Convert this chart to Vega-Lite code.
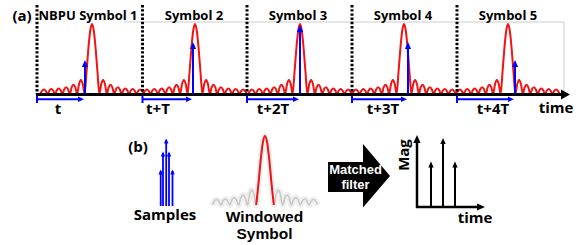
{
"$schema": "https://vega.github.io/schema/vega-lite/v6.json",
"width": 579, "height": 245,
"autosize": {"type": "fit", "contains": "padding"},
"padding": 0,
"background": "white",
"config": {"view": {"stroke": null}},
"datasets": {
"grayBox": [{"x":124,"y":22,"x2":564,"y2":22},{"x":564,"y":22,"x2":564,"y2":93}],
"dotted": [{"x":37,"y":5,"y2":94},{"x":142.5,"y":5,"y2":94},{"x":247,"y":5,"y2":94},{"x":352,"y":5,"y2":94},{"x":457,"y":5,"y2":94}],
"sinc": [
{"s":1,"x":40.2,"y":94},{"s":1,"x":42.05,"y":90.8},{"s":1,"x":43.9,"y":89.5},{"s":1,"x":45.75,"y":90.8},
{"s":1,"x":47.6,"y":94},{"s":1,"x":49.45,"y":90.5},{"s":1,"x":51.3,"y":89},{"s":1,"x":53.15,"y":90.5},
{"s":1,"x":55,"y":94},{"s":1,"x":56.85,"y":90.1},{"s":1,"x":58.7,"y":88.5},{"s":1,"x":60.55,"y":90.1},
{"s":1,"x":62.4,"y":94},{"s":1,"x":64.25,"y":89.3},{"s":1,"x":66.1,"y":87.3},{"s":1,"x":67.95,"y":89.3},
{"s":1,"x":69.8,"y":94},{"s":1,"x":71.65,"y":87.4},{"s":1,"x":73.5,"y":84.7},{"s":1,"x":75.35,"y":87.4},
{"s":1,"x":77.2,"y":94},{"s":1,"x":79.05,"y":84.1},{"s":1,"x":80.9,"y":80},{"s":1,"x":82.75,"y":84.1},
{"s":1,"x":84.6,"y":94},{"s":1,"x":86.45,"y":73},{"s":1,"x":88.3,"y":49.4},{"s":1,"x":90.15,"y":31},
{"s":1,"x":92,"y":24},
{"s":1,"x":93.85,"y":31},{"s":1,"x":95.7,"y":49.4},{"s":1,"x":97.55,"y":73},{"s":1,"x":99.4,"y":94},
{"s":1,"x":101.25,"y":84.1},{"s":1,"x":103.1,"y":80},{"s":1,"x":104.95,"y":84.1},{"s":1,"x":106.8,"y":94},
{"s":1,"x":108.65,"y":87.4},{"s":1,"x":110.5,"y":84.7},{"s":1,"x":112.35,"y":87.4},{"s":1,"x":114.2,"y":94},
{"s":1,"x":116.05,"y":89.3},{"s":1,"x":117.9,"y":87.3},{"s":1,"x":119.75,"y":89.3},{"s":1,"x":121.6,"y":94},
{"s":1,"x":123.45,"y":90.1},{"s":1,"x":125.3,"y":88.5},{"s":1,"x":127.15,"y":90.1},{"s":1,"x":129,"y":94},
{"s":1,"x":130.85,"y":90.5},{"s":1,"x":132.7,"y":89},{"s":1,"x":134.55,"y":90.5},{"s":1,"x":136.4,"y":94},
{"s":1,"x":138.25,"y":90.8},{"s":1,"x":140.1,"y":89.5},{"s":1,"x":141.95,"y":90.8},{"s":1,"x":143.8,"y":94},
{"s":2,"x":143.2,"y":94},{"s":2,"x":145.05,"y":90.8},{"s":2,"x":146.9,"y":89.5},{"s":2,"x":148.75,"y":90.8},
{"s":2,"x":150.6,"y":94},{"s":2,"x":152.45,"y":90.5},{"s":2,"x":154.3,"y":89},{"s":2,"x":156.15,"y":90.5},
{"s":2,"x":158,"y":94},{"s":2,"x":159.85,"y":90.1},{"s":2,"x":161.7,"y":88.5},{"s":2,"x":163.55,"y":90.1},
{"s":2,"x":165.4,"y":94},{"s":2,"x":167.25,"y":89.3},{"s":2,"x":169.1,"y":87.3},{"s":2,"x":170.95,"y":89.3},
{"s":2,"x":172.8,"y":94},{"s":2,"x":174.65,"y":87.4},{"s":2,"x":176.5,"y":84.7},{"s":2,"x":178.35,"y":87.4},
{"s":2,"x":180.2,"y":94},{"s":2,"x":182.05,"y":84.1},{"s":2,"x":183.9,"y":80},{"s":2,"x":185.75,"y":84.1},
{"s":2,"x":187.6,"y":94},{"s":2,"x":189.45,"y":73},{"s":2,"x":191.3,"y":49.4},{"s":2,"x":193.15,"y":31},
{"s":2,"x":195,"y":24},
{"s":2,"x":196.85,"y":31},{"s":2,"x":198.7,"y":49.4},{"s":2,"x":200.55,"y":73},{"s":2,"x":202.4,"y":94},
{"s":2,"x":204.25,"y":84.1},{"s":2,"x":206.1,"y":80},{"s":2,"x":207.95,"y":84.1},{"s":2,"x":209.8,"y":94},
{"s":2,"x":211.65,"y":87.4},{"s":2,"x":213.5,"y":84.7},{"s":2,"x":215.35,"y":87.4},{"s":2,"x":217.2,"y":94},
{"s":2,"x":219.05,"y":89.3},{"s":2,"x":220.9,"y":87.3},{"s":2,"x":222.75,"y":89.3},{"s":2,"x":224.6,"y":94},
{"s":2,"x":226.45,"y":90.1},{"s":2,"x":228.3,"y":88.5},{"s":2,"x":230.15,"y":90.1},{"s":2,"x":232,"y":94},
{"s":2,"x":233.85,"y":90.5},{"s":2,"x":235.7,"y":89},{"s":2,"x":237.55,"y":90.5},{"s":2,"x":239.4,"y":94},
{"s":2,"x":241.25,"y":90.8},{"s":2,"x":243.1,"y":89.5},{"s":2,"x":244.95,"y":90.8},{"s":2,"x":246.8,"y":94},
{"s":3,"x":248.2,"y":94},{"s":3,"x":250.05,"y":90.8},{"s":3,"x":251.9,"y":89.5},{"s":3,"x":253.75,"y":90.8},
{"s":3,"x":255.6,"y":94},{"s":3,"x":257.45,"y":90.5},{"s":3,"x":259.3,"y":89},{"s":3,"x":261.15,"y":90.5},
{"s":3,"x":263,"y":94},{"s":3,"x":264.85,"y":90.1},{"s":3,"x":266.7,"y":88.5},{"s":3,"x":268.55,"y":90.1},
{"s":3,"x":270.4,"y":94},{"s":3,"x":272.25,"y":89.3},{"s":3,"x":274.1,"y":87.3},{"s":3,"x":275.95,"y":89.3},
{"s":3,"x":277.8,"y":94},{"s":3,"x":279.65,"y":87.4},{"s":3,"x":281.5,"y":84.7},{"s":3,"x":283.35,"y":87.4},
{"s":3,"x":285.2,"y":94},{"s":3,"x":287.05,"y":84.1},{"s":3,"x":288.9,"y":80},{"s":3,"x":290.75,"y":84.1},
{"s":3,"x":292.6,"y":94},{"s":3,"x":294.45,"y":73},{"s":3,"x":296.3,"y":49.4},{"s":3,"x":298.15,"y":31},
{"s":3,"x":300,"y":24},
{"s":3,"x":301.85,"y":31},{"s":3,"x":303.7,"y":49.4},{"s":3,"x":305.55,"y":73},{"s":3,"x":307.4,"y":94},
{"s":3,"x":309.25,"y":84.1},{"s":3,"x":311.1,"y":80},{"s":3,"x":312.95,"y":84.1},{"s":3,"x":314.8,"y":94},
{"s":3,"x":316.65,"y":87.4},{"s":3,"x":318.5,"y":84.7},{"s":3,"x":320.35,"y":87.4},{"s":3,"x":322.2,"y":94},
{"s":3,"x":324.05,"y":89.3},{"s":3,"x":325.9,"y":87.3},{"s":3,"x":327.75,"y":89.3},{"s":3,"x":329.6,"y":94},
{"s":3,"x":331.45,"y":90.1},{"s":3,"x":333.3,"y":88.5},{"s":3,"x":335.15,"y":90.1},{"s":3,"x":337,"y":94},
{"s":3,"x":338.85,"y":90.5},{"s":3,"x":340.7,"y":89},{"s":3,"x":342.55,"y":90.5},{"s":3,"x":344.4,"y":94},
{"s":3,"x":346.25,"y":90.8},{"s":3,"x":348.1,"y":89.5},{"s":3,"x":349.95,"y":90.8},{"s":3,"x":351.8,"y":94},
{"s":4,"x":352.2,"y":94},{"s":4,"x":354.05,"y":90.8},{"s":4,"x":355.9,"y":89.5},{"s":4,"x":357.75,"y":90.8},
{"s":4,"x":359.6,"y":94},{"s":4,"x":361.45,"y":90.5},{"s":4,"x":363.3,"y":89},{"s":4,"x":365.15,"y":90.5},
{"s":4,"x":367,"y":94},{"s":4,"x":368.85,"y":90.1},{"s":4,"x":370.7,"y":88.5},{"s":4,"x":372.55,"y":90.1},
{"s":4,"x":374.4,"y":94},{"s":4,"x":376.25,"y":89.3},{"s":4,"x":378.1,"y":87.3},{"s":4,"x":379.95,"y":89.3},
{"s":4,"x":381.8,"y":94},{"s":4,"x":383.65,"y":87.4},{"s":4,"x":385.5,"y":84.7},{"s":4,"x":387.35,"y":87.4},
{"s":4,"x":389.2,"y":94},{"s":4,"x":391.05,"y":84.1},{"s":4,"x":392.9,"y":80},{"s":4,"x":394.75,"y":84.1},
{"s":4,"x":396.6,"y":94},{"s":4,"x":398.45,"y":73},{"s":4,"x":400.3,"y":49.4},{"s":4,"x":402.15,"y":31},
{"s":4,"x":404,"y":24},
{"s":4,"x":405.85,"y":31},{"s":4,"x":407.7,"y":49.4},{"s":4,"x":409.55,"y":73},{"s":4,"x":411.4,"y":94},
{"s":4,"x":413.25,"y":84.1},{"s":4,"x":415.1,"y":80},{"s":4,"x":416.95,"y":84.1},{"s":4,"x":418.8,"y":94},
{"s":4,"x":420.65,"y":87.4},{"s":4,"x":422.5,"y":84.7},{"s":4,"x":424.35,"y":87.4},{"s":4,"x":426.2,"y":94},
{"s":4,"x":428.05,"y":89.3},{"s":4,"x":429.9,"y":87.3},{"s":4,"x":431.75,"y":89.3},{"s":4,"x":433.6,"y":94},
{"s":4,"x":435.45,"y":90.1},{"s":4,"x":437.3,"y":88.5},{"s":4,"x":439.15,"y":90.1},{"s":4,"x":441,"y":94},
{"s":4,"x":442.85,"y":90.5},{"s":4,"x":444.7,"y":89},{"s":4,"x":446.55,"y":90.5},{"s":4,"x":448.4,"y":94},
{"s":4,"x":450.25,"y":90.8},{"s":4,"x":452.1,"y":89.5},{"s":4,"x":453.95,"y":90.8},{"s":4,"x":455.8,"y":94},
{"s":5,"x":456.2,"y":94},{"s":5,"x":458.05,"y":90.8},{"s":5,"x":459.9,"y":89.5},{"s":5,"x":461.75,"y":90.8},
{"s":5,"x":463.6,"y":94},{"s":5,"x":465.45,"y":90.5},{"s":5,"x":467.3,"y":89},{"s":5,"x":469.15,"y":90.5},
{"s":5,"x":471,"y":94},{"s":5,"x":472.85,"y":90.1},{"s":5,"x":474.7,"y":88.5},{"s":5,"x":476.55,"y":90.1},
{"s":5,"x":478.4,"y":94},{"s":5,"x":480.25,"y":89.3},{"s":5,"x":482.1,"y":87.3},{"s":5,"x":483.95,"y":89.3},
{"s":5,"x":485.8,"y":94},{"s":5,"x":487.65,"y":87.4},{"s":5,"x":489.5,"y":84.7},{"s":5,"x":491.35,"y":87.4},
{"s":5,"x":493.2,"y":94},{"s":5,"x":495.05,"y":84.1},{"s":5,"x":496.9,"y":80},{"s":5,"x":498.75,"y":84.1},
{"s":5,"x":500.6,"y":94},{"s":5,"x":502.45,"y":73},{"s":5,"x":504.3,"y":49.4},{"s":5,"x":506.15,"y":31},
{"s":5,"x":508,"y":24},
{"s":5,"x":509.85,"y":31},{"s":5,"x":511.7,"y":49.4},{"s":5,"x":513.55,"y":73},{"s":5,"x":515.4,"y":94},
{"s":5,"x":517.25,"y":84.1},{"s":5,"x":519.1,"y":80},{"s":5,"x":520.95,"y":84.1},{"s":5,"x":522.8,"y":94},
{"s":5,"x":524.65,"y":87.4},{"s":5,"x":526.5,"y":84.7},{"s":5,"x":528.35,"y":87.4},{"s":5,"x":530.2,"y":94},
{"s":5,"x":532.05,"y":89.3},{"s":5,"x":533.9,"y":87.3},{"s":5,"x":535.75,"y":89.3},{"s":5,"x":537.6,"y":94},
{"s":5,"x":539.45,"y":90.1},{"s":5,"x":541.3,"y":88.5},{"s":5,"x":543.15,"y":90.1},{"s":5,"x":545,"y":94},
{"s":5,"x":546.85,"y":90.5},{"s":5,"x":548.7,"y":89},{"s":5,"x":550.55,"y":90.5},{"s":5,"x":552.4,"y":94},
{"s":5,"x":554.25,"y":90.8},{"s":5,"x":556.1,"y":89.5},{"s":5,"x":557.95,"y":90.8},{"s":5,"x":559.8,"y":94}
],
"windowed": [
{"x":212.2,"y":205},{"x":214.4,"y":201.1},{"x":216.6,"y":199.5},{"x":218.8,"y":201.1},
{"x":221,"y":205},{"x":223.2,"y":200.8},{"x":225.4,"y":199},{"x":227.6,"y":200.8},
{"x":229.8,"y":205},{"x":232,"y":199.7},{"x":234.2,"y":197.5},{"x":236.4,"y":199.7},
{"x":238.6,"y":205},{"x":240.8,"y":197.9},{"x":243,"y":195},{"x":245.2,"y":197.9},
{"x":247.4,"y":205},{"x":249.6,"y":194.4},{"x":251.8,"y":190},{"x":254,"y":194.4},
{"x":256.2,"y":205},{"x":258.4,"y":184.3},{"x":260.6,"y":161},{"x":262.8,"y":142.9},
{"x":265,"y":136},
{"x":267.2,"y":142.9},{"x":269.4,"y":161},{"x":271.6,"y":184.3},{"x":273.8,"y":205},
{"x":276,"y":194.4},{"x":278.2,"y":190},{"x":280.4,"y":194.4},{"x":282.6,"y":205},
{"x":284.8,"y":197.9},{"x":287,"y":195},{"x":289.2,"y":197.9},{"x":291.4,"y":205},
{"x":293.6,"y":199.7},{"x":295.8,"y":197.5},{"x":298,"y":199.7},{"x":300.2,"y":205},
{"x":302.4,"y":200.8},{"x":304.6,"y":199},{"x":306.8,"y":200.8},{"x":309,"y":205},
{"x":311.2,"y":201.1},{"x":313.4,"y":199.5},{"x":315.6,"y":201.1},{"x":317.8,"y":205}
],
"blackThick": [{"x":36,"y":94.5,"x2":564,"y2":94.5}],
"blackAxes": [{"x":417,"y":140,"x2":417,"y2":208},{"x":416,"y":207,"x2":480,"y2":207}],
"stems": [{"x":431,"y":164,"y2":207},{"x":443,"y":141,"y2":207},{"x":455,"y":164,"y2":207}],
"blueA": [
{"x":85,"y":62,"x2":85,"y2":94},{"x":193,"y":44,"x2":193,"y2":94},{"x":300,"y":27,"x2":300,"y2":94},{"x":408,"y":44,"x2":408,"y2":94},{"x":515,"y":62,"x2":515,"y2":94},
{"x":37,"y":99.3,"x2":81,"y2":99.3},{"x":142.5,"y":99.3,"x2":189,"y2":99.3},{"x":247,"y":99.3,"x2":296,"y2":99.3},{"x":352,"y":99.3,"x2":404,"y2":99.3},{"x":457,"y":99.3,"x2":511,"y2":99.3},
{"x":37,"y":95.5,"x2":37,"y2":103},{"x":142.5,"y":95.5,"x2":142.5,"y2":103},{"x":247,"y":95.5,"x2":247,"y2":103},{"x":352,"y":95.5,"x2":352,"y2":103},{"x":457,"y":95.5,"x2":457,"y2":103}
],
"blueB": [{"x":160.7,"y":171,"y2":206},{"x":163,"y":153,"y2":206},{"x":166.2,"y":140,"y2":206},{"x":169,"y":153,"y2":206},{"x":172.5,"y":171,"y2":206}],
"headsBlueA": [{"x":85,"y":60},{"x":193,"y":42},{"x":300,"y":25},{"x":408,"y":42},{"x":515,"y":60}],
"headsBlueRight": [{"x":84,"y":99.3},{"x":192,"y":99.3},{"x":299,"y":99.3},{"x":407,"y":99.3},{"x":514,"y":99.3}],
"headsBlueB": [{"x":160.7,"y":169.5},{"x":163,"y":151.5},{"x":166.2,"y":138.5},{"x":169,"y":151.5},{"x":172.5,"y":169.5}],
"headsBlackRight": [{"x":570,"y":94.5}],
"headsAxes": [{"x":417,"y":135}],
"headsAxesRight": [{"x":485,"y":207}],
"headsStems": [{"x":431,"y":161.5},{"x":443,"y":138},{"x":455,"y":161.5}],
"blockBody": [{"x":328,"y":162,"x2":363.5,"y2":192}],
"blockHead": [{"x":363,"y":144,"y2":207.5},{"x":390,"y":176,"y2":176}],
"titles": [{"t":"NBPU Symbol 1","x":88,"y":19.5},{"t":"Symbol 2","x":194,"y":19.5},{"t":"Symbol 3","x":298,"y":19.5},{"t":"Symbol 4","x":403,"y":19.5},{"t":"Symbol 5","x":508,"y":19.5}],
"labels": [{"t":"(a)","x":22,"y":20.5},{"t":"t","x":58,"y":114},{"t":"t+T","x":158,"y":114},{"t":"t+2T","x":273,"y":114},{"t":"t+3T","x":383,"y":114},{"t":"t+4T","x":493,"y":114},{"t":"time","x":556,"y":113},{"t":"(b)","x":138,"y":152},{"t":"Samples","x":165,"y":220},{"t":"time","x":475,"y":223}],
"twoLine": [{"t":"Windowed\nSymbol","x":264.5,"y":221.5}],
"white": [{"t":"Matched\nfilter","x":355.5,"y":174}],
"mag": [{"t":"Mag","x":404,"y":155}]
},
"encoding": {
"x": {"field":"x","type":"quantitative","scale":{"domain":[0,579],"nice":false,"zero":false},"axis":null},
"y": {"field":"y","type":"quantitative","scale":{"domain":[0,245],"nice":false,"zero":false,"reverse":true},"axis":null}
},
"layer": [
{"data":{"name":"grayBox"},"mark":{"type":"rule","color":"#cccccc","strokeWidth":1},"encoding":{"x2":{"field":"x2"},"y2":{"field":"y2"}}},
{"data":{"name":"windowed"},"mark":{"type":"line","color":"#eeeeee","strokeWidth":6,"interpolate":"monotone"}},
{"data":{"name":"windowed"},"mark":{"type":"line","color":"#c8c8c8","strokeWidth":1.5,"interpolate":"monotone"}},
{"data":{"name":"sinc"},"mark":{"type":"line","color":"#f01414","strokeWidth":2,"interpolate":"monotone"},"encoding":{"detail":{"field":"s","type":"nominal"}}},
{"data":{"name":"windowed"},"transform":[{"filter":{"field":"x","range":[256,274]}}],"mark":{"type":"line","color":"#f01414","strokeWidth":2,"interpolate":"monotone"}},
{"data":{"name":"dotted"},"mark":{"type":"rule","color":"black","strokeWidth":3,"strokeDash":[2.4,1.8]},"encoding":{"y2":{"field":"y2"}}},
{"data":{"name":"blackThick"},"mark":{"type":"rule","color":"black","strokeWidth":3},"encoding":{"x2":{"field":"x2"},"y2":{"field":"y2"}}},
{"data":{"name":"blackAxes"},"mark":{"type":"rule","color":"black","strokeWidth":2.5},"encoding":{"x2":{"field":"x2"},"y2":{"field":"y2"}}},
{"data":{"name":"stems"},"mark":{"type":"rule","color":"black","strokeWidth":2},"encoding":{"y2":{"field":"y2"}}},
{"data":{"name":"blueA"},"mark":{"type":"rule","color":"#0000ff","strokeWidth":2},"encoding":{"x2":{"field":"x2"},"y2":{"field":"y2"}}},
{"data":{"name":"blueB"},"mark":{"type":"rule","color":"#0000ff","strokeWidth":1.8},"encoding":{"y2":{"field":"y2"}}},
{"data":{"name":"headsBlueA"},"mark":{"type":"point","shape":"M0,0L0.9,2L-0.9,2Z","size":49,"filled":true,"color":"#0000ff","opacity":1,"strokeWidth":0}},
{"data":{"name":"headsBlueRight"},"mark":{"type":"point","shape":"M0,0L-2,-0.9L-2,0.9Z","size":36,"filled":true,"color":"#0000ff","opacity":1,"strokeWidth":0}},
{"data":{"name":"headsBlueB"},"mark":{"type":"point","shape":"M0,0L0.9,2L-0.9,2Z","size":25,"filled":true,"color":"#0000ff","opacity":1,"strokeWidth":0}},
{"data":{"name":"headsBlackRight"},"mark":{"type":"point","shape":"M0,0L-2,-1.1L-2,1.1Z","size":81,"filled":true,"color":"black","opacity":1,"strokeWidth":0}},
{"data":{"name":"headsAxes"},"mark":{"type":"point","shape":"M0,0L0.9,2L-0.9,2Z","size":64,"filled":true,"color":"black","opacity":1,"strokeWidth":0}},
{"data":{"name":"headsAxesRight"},"mark":{"type":"point","shape":"M0,0L-2,-0.9L-2,0.9Z","size":64,"filled":true,"color":"black","opacity":1,"strokeWidth":0}},
{"data":{"name":"headsStems"},"mark":{"type":"point","shape":"M0,0L0.9,2L-0.9,2Z","size":36,"filled":true,"color":"black","opacity":1,"strokeWidth":0}},
{"data":{"name":"blockBody"},"mark":{"type":"rect","color":"black"},"encoding":{"x2":{"field":"x2"},"y2":{"field":"y2"}}},
{"data":{"name":"blockHead"},"mark":{"type":"area","color":"black","opacity":1},"encoding":{"y2":{"field":"y2"}}},
{"data":{"name":"titles"},"mark":{"type":"text","font":"Open Sans","fontWeight":"bold","fontSize":13,"align":"center","baseline":"alphabetic","color":"black"},"encoding":{"text":{"field":"t"}}},
{"data":{"name":"labels"},"mark":{"type":"text","font":"Open Sans","fontWeight":"bold","fontSize":15,"align":"center","baseline":"alphabetic","color":"black"},"encoding":{"text":{"field":"t"}}},
{"data":{"name":"twoLine"},"mark":{"type":"text","font":"Liberation Sans","fontWeight":"bold","fontSize":15.5,"align":"center","baseline":"alphabetic","lineBreak":"\n","lineHeight":17.8,"color":"black"},"encoding":{"text":{"field":"t"}}},
{"data":{"name":"white"},"mark":{"type":"text","font":"Liberation Sans","fontWeight":"bold","fontSize":13,"align":"center","baseline":"alphabetic","lineBreak":"\n","lineHeight":15,"color":"white"},"encoding":{"text":{"field":"t"}}},
{"data":{"name":"mag"},"mark":{"type":"text","font":"Open Sans","fontWeight":"bold","fontSize":15,"align":"center","baseline":"middle","angle":270,"color":"black"},"encoding":{"text":{"field":"t"}}}
]
}
